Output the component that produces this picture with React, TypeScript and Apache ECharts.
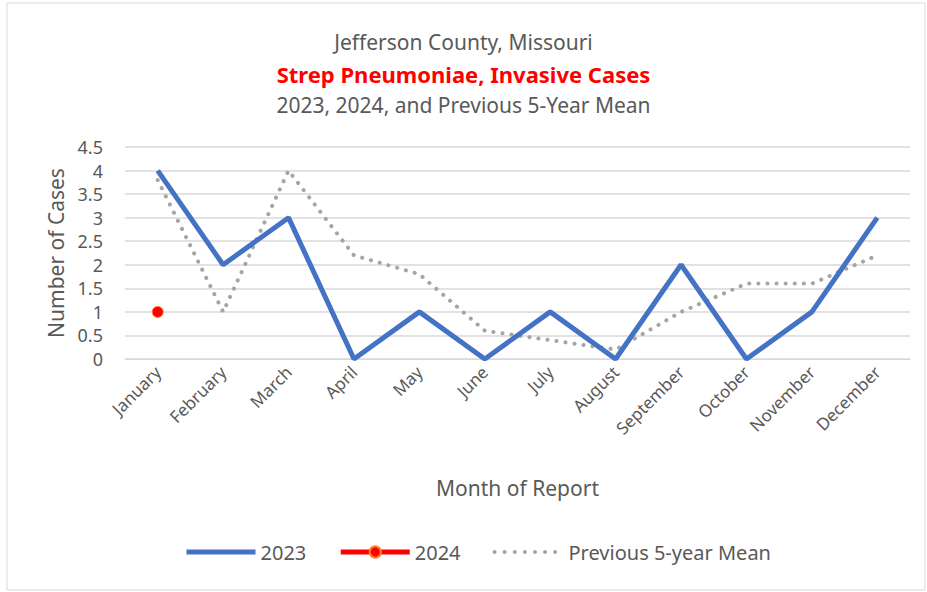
import React, { useEffect, useRef } from "react";
import * as echarts from "echarts";

const months = ["January","February","March","April","May","June","July","August","September","October","November","December"];
const cases2023 = [4, 2, 3, 0, 1, 0, 1, 0, 2, 0, 1, 3];
const cases2024: (number | null)[] = [1, null, null, null, null, null, null, null, null, null, null, null];
const prevMean = [3.8, 1.0, 4.0, 2.2, 1.8, 0.6, 0.4, 0.2, 1.0, 1.6, 1.6, 2.2];
const yTicks = { min: 0, max: 4.5, interval: 0.5 };

const FONT = "'Noto Sans', 'Open Sans', sans-serif";
const GREY = "#595959";

export default function App() {
  const ref = useRef<HTMLDivElement>(null);
  useEffect(() => {
    document.body.style.margin = "0";
    const chart = echarts.init(ref.current!, null, { renderer: "svg" });
    chart.setOption({
      animation: false,
      backgroundColor: "#ffffff",
      textStyle: { fontFamily: FONT },
      graphic: [
        {
          type: "rect",
          shape: { x: 7, y: 3, width: 918, height: 587 },
          style: { fill: "none", stroke: "#d9d9d9", lineWidth: 1 },
          silent: true,
        },
      ],
      title: [
        { text: "Jefferson County, Missouri", left: "center", top: 26, textStyle: { fontFamily: FONT, fontSize: 21, fontWeight: "normal", color: GREY } },
        { text: "Strep Pneumoniae, Invasive Cases", left: "center", top: 58, textStyle: { fontFamily: FONT, fontSize: 22, fontWeight: "bold", color: "#FF0000" } },
        { text: "2023, 2024, and Previous 5-Year Mean", left: "center", top: 89, textStyle: { fontFamily: FONT, fontSize: 21, fontWeight: "normal", color: GREY } },
      ],
      legend: {
        bottom: 30,
        left: 184,
        padding: 0,
        itemWidth: 69,
        itemHeight: 14,
        itemGap: 32,
        textStyle: { fontFamily: FONT, fontSize: 20, color: GREY },
        lineStyle: { width: 5 },
        data: [
          { name: "2023", itemStyle: { opacity: 0 }, lineStyle: { width: 5 } },
          { name: "2024", lineStyle: { width: 5 } },
          { name: "Previous 5-year Mean", itemStyle: { opacity: 0 }, lineStyle: { width: 4, type: [0.1, 10], cap: "round" } },
        ],
      },
      grid: { left: 125, right: 17, top: 147, bottom: 233, containLabel: false },
      xAxis: {
        type: "category",
        data: months,
        boundaryGap: true,
        name: "Month of Report",
        nameLocation: "middle",
        nameGap: 118,
        nameTextStyle: { fontFamily: FONT, fontSize: 21, color: GREY },
        axisLine: { show: true, lineStyle: { color: "#d9d9d9" } },
        axisTick: { show: false },
        axisLabel: { rotate: 45, fontSize: 17, color: GREY, margin: 10, interval: 0 },
      },
      yAxis: {
        type: "value",
        min: yTicks.min,
        max: yTicks.max,
        interval: yTicks.interval,
        name: "Number of Cases",
        nameLocation: "middle",
        nameGap: 56,
        nameTextStyle: { fontFamily: FONT, fontSize: 21, color: GREY },
        axisLine: { show: false },
        axisTick: { show: false },
        axisLabel: { fontSize: 18, color: GREY, margin: 22 },
        splitLine: { lineStyle: { color: "#d9d9d9", width: 1.5 } },
      },
      series: [
        {
          name: "Previous 5-year Mean",
          type: "line",
          data: prevMean,
          symbol: "none",
          z: 1,
          itemStyle: { color: "#A5A5A5" },
          lineStyle: { color: "#A5A5A5", width: 4, type: [0.1, 9], cap: "round" },
        },
        {
          name: "2023",
          type: "line",
          data: cases2023,
          symbol: "none",
          z: 2,
          itemStyle: { color: "#4472C4" },
          lineStyle: { color: "#4472C4", width: 5 },
        },
        {
          name: "2024",
          type: "line",
          data: cases2024,
          symbol: "circle",
          symbolSize: 11,
          showAllSymbol: true,
          z: 3,
          itemStyle: { color: "#FF0000", borderColor: "#FF7F27", borderWidth: 1 },
          lineStyle: { color: "#FF0000", width: 5 },
        },
      ],
    });
    return () => chart.dispose();
  }, []);
  return <div ref={ref} style={{ width: 927, height: 592 }} />;
}
